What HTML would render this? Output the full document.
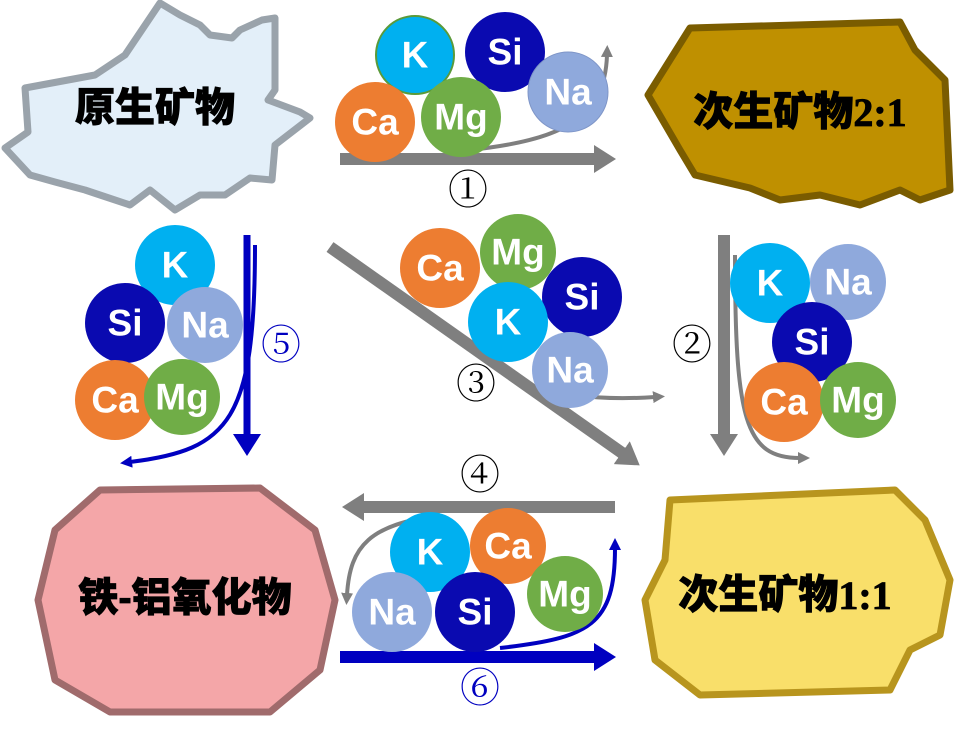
<!DOCTYPE html>
<html><head><meta charset="utf-8"><style>
body{margin:0;background:#fff}
svg{display:block}
.c text{font-family:"Liberation Sans",sans-serif;font-weight:bold;font-size:37px;fill:#fff;text-anchor:middle;dominant-baseline:central}
.lab{font-family:"Liberation Sans","Noto Sans CJK SC",sans-serif;font-weight:900;font-size:40px;fill:#000;text-anchor:middle;dominant-baseline:central;stroke:#000;stroke-width:0.8}
.num{font-family:"Liberation Serif","Noto Serif CJK SC",serif;font-size:40px;text-anchor:middle;dominant-baseline:central}
</style></head><body>
<svg width="959" height="740" viewBox="0 0 959 740">
<defs>
<marker id="ag" markerWidth="22" markerHeight="28" refX="4" refY="14" orient="auto" markerUnits="userSpaceOnUse"><path d="M0,0 L22,14 L0,28z" fill="#7f7f7f"/></marker>
<marker id="ab" markerWidth="22" markerHeight="28" refX="4" refY="14" orient="auto" markerUnits="userSpaceOnUse"><path d="M0,0 L22,14 L0,28z" fill="#0000c0"/></marker>
<marker id="sg" markerWidth="12" markerHeight="12" refX="2" refY="6" orient="auto" markerUnits="userSpaceOnUse"><path d="M0,0 L12,6 L0,12z" fill="#7f7f7f"/></marker>
<marker id="sb" markerWidth="12" markerHeight="12" refX="2" refY="6" orient="auto" markerUnits="userSpaceOnUse"><path d="M0,0 L12,6 L0,12z" fill="#0000c0"/></marker>
</defs>
<!-- shapes -->
<path d="M25,88 L95,75 L125,55 L160,3 L180,15 L200,25 L210,35 L232,38 L240,30 L262,20 L275,18 L275,90 L268,100 L300,112 L310,118 L275,145 L272,180 L250,178 L225,195 L200,195 L175,210 L150,190 L130,205 L100,195 L85,190 L55,182 L30,175 L5,148 L28,132 Z" fill="#e3eff9" stroke="#9aa3ab" stroke-width="7" stroke-linejoin="round"/>
<text class="lab" x="155" y="108">原生矿物</text>
<path d="M690,28 L900,22 L915,50 L945,80 L950,190 L920,200 L900,190 L860,205 L820,195 L780,200 L750,188 L695,175 L680,150 L648,95 Z" fill="#bf9000" stroke="#7a5c00" stroke-width="7" stroke-linejoin="round"/>
<text class="lab" x="800" y="112">次生矿物<tspan font-family="Liberation Serif,serif">2:1</tspan></text>
<path d="M100,490 L260,488 L315,530 L335,600 L320,670 L270,712 L110,712 L55,680 L38,600 L55,530 Z" fill="#f4a6a8" stroke="#a06b6c" stroke-width="7" stroke-linejoin="round"/>
<text class="lab" x="185" y="598">铁-铝氧化物</text>
<path d="M670,500 L895,490 L925,520 L950,580 L940,635 L910,650 L890,690 L700,695 L655,660 L645,600 L665,560 Z" fill="#f9df6a" stroke="#b8951e" stroke-width="7" stroke-linejoin="round"/>
<text class="lab" x="785" y="595">次生矿物<tspan font-family="Liberation Serif,serif">1:1</tspan></text>

<!-- arrows -->
<line x1="340" y1="159" x2="598" y2="159" stroke="#7f7f7f" stroke-width="12" marker-end="url(#ag)"/>
<path d="M470,150 C560,140 605,120 607,55" fill="none" stroke="#7f7f7f" stroke-width="4" marker-end="url(#sg)"/>
<line x1="330" y1="247" x2="625" y2="455" stroke="#7f7f7f" stroke-width="12" marker-end="url(#ag)"/>
<path d="M575,395 Q610,400 655,397" fill="none" stroke="#7f7f7f" stroke-width="4" marker-end="url(#sg)"/>
<line x1="724" y1="235" x2="724" y2="438" stroke="#7f7f7f" stroke-width="12" marker-end="url(#ag)"/>
<path d="M735,255 C735,420 745,458 800,458" fill="none" stroke="#7f7f7f" stroke-width="4" marker-end="url(#sg)"/>
<line x1="247" y1="235" x2="247" y2="438" stroke="#0000c0" stroke-width="7" marker-end="url(#ab)"/>
<path d="M255,245 C255,420 230,450 130,462" fill="none" stroke="#0000c0" stroke-width="4" marker-end="url(#sb)"/>
<line x1="615" y1="507" x2="360" y2="507" stroke="#7f7f7f" stroke-width="12" marker-end="url(#ag)"/>
<path d="M440,515 C370,525 350,545 347,595" fill="none" stroke="#7f7f7f" stroke-width="4" marker-end="url(#sg)"/>
<line x1="340" y1="657" x2="598" y2="657" stroke="#0000c0" stroke-width="12" marker-end="url(#ab)"/>
<path d="M500,648 C590,638 615,625 615,548" fill="none" stroke="#0000c0" stroke-width="4" marker-end="url(#sb)"/>

<g class="c">
<circle cx="415" cy="55" r="39" fill="#00b0f0" stroke="#5a9a3a" stroke-width="2"/><text x="415" y="55">K</text>
<circle cx="505" cy="52" r="40" fill="#0a0ab0"/><text x="505" y="52">Si</text>
<circle cx="568" cy="92" r="40" fill="#8fa9dc" stroke="#7f96c8"/><text x="568" y="92">Na</text>
<circle cx="375" cy="122" r="40" fill="#ed7d31"/><text x="375" y="122">Ca</text>
<circle cx="461" cy="117" r="40" fill="#70ad47"/><text x="461" y="117">Mg</text>

<circle cx="440" cy="268" r="40" fill="#ed7d31"/><text x="440" y="268">Ca</text>
<circle cx="518" cy="252" r="38" fill="#70ad47"/><text x="518" y="252">Mg</text>
<circle cx="582" cy="297" r="40" fill="#0a0ab0"/><text x="582" y="297">Si</text>
<circle cx="508" cy="322" r="40" fill="#00b0f0"/><text x="508" y="322">K</text>
<circle cx="570" cy="370" r="38" fill="#8fa9dc"/><text x="570" y="370">Na</text>

<circle cx="770" cy="283" r="40" fill="#00b0f0"/><text x="770" y="283">K</text>
<circle cx="848" cy="282" r="38" fill="#8fa9dc"/><text x="848" y="282">Na</text>
<circle cx="812" cy="342" r="40" fill="#0a0ab0"/><text x="812" y="342">Si</text>
<circle cx="784" cy="402" r="40" fill="#ed7d31"/><text x="784" y="402">Ca</text>
<circle cx="858" cy="400" r="38" fill="#70ad47"/><text x="858" y="400">Mg</text>

<circle cx="175" cy="265" r="40" fill="#00b0f0"/><text x="175" y="265">K</text>
<circle cx="205" cy="325" r="38" fill="#8fa9dc"/><text x="205" y="325">Na</text>
<circle cx="125" cy="323" r="40" fill="#0a0ab0"/><text x="125" y="323">Si</text>
<circle cx="115" cy="400" r="40" fill="#ed7d31"/><text x="115" y="400">Ca</text>
<circle cx="182" cy="397" r="38" fill="#70ad47"/><text x="182" y="397">Mg</text>

<circle cx="430" cy="552" r="40" fill="#00b0f0"/><text x="430" y="552">K</text>
<circle cx="508" cy="546" r="38" fill="#ed7d31"/><text x="508" y="546">Ca</text>
<circle cx="565" cy="594" r="38" fill="#70ad47"/><text x="565" y="594">Mg</text>
<circle cx="392" cy="612" r="40" fill="#8fa9dc"/><text x="392" y="612">Na</text>
<circle cx="475" cy="612" r="40" fill="#0a0ab0"/><text x="475" y="612">Si</text>
</g>

<text class="num" x="468" y="190">①</text>
<text class="num" x="692" y="345">②</text>
<text class="num" x="476" y="384">③</text>
<text class="num" x="480" y="475">④</text>
<text class="num" x="281" y="345" fill="#0000c0">⑤</text>
<text class="num" x="480" y="688" fill="#0000c0">⑥</text>
</svg>
</body></html>
